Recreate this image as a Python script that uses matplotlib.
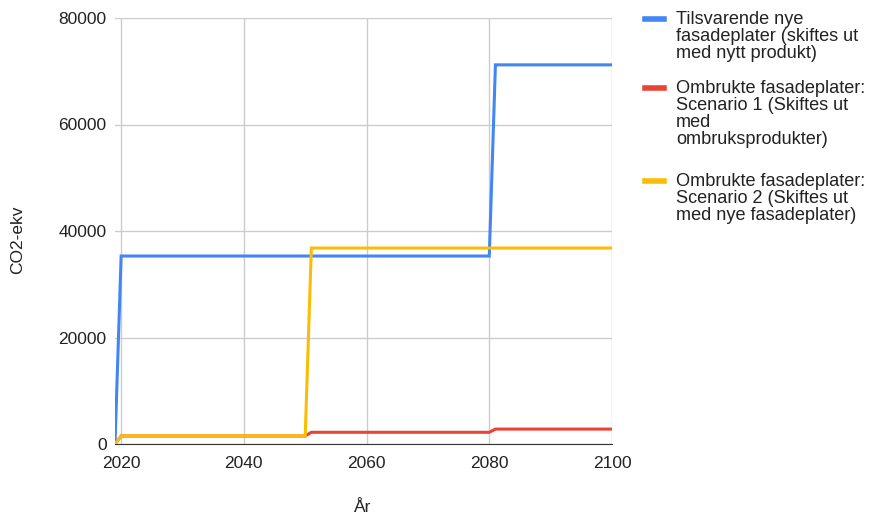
"""CO2-ekv over time for three facade panel scenarios."""

import matplotlib

matplotlib.use("Agg")

import matplotlib.pyplot as plt
from matplotlib.lines import Line2D

years = [2019, 2020, 2050, 2051, 2080, 2081, 2100]
new_panels = [0, 35300, 35300, 35300, 35300, 71200, 71200]
reuse_s1 = [0, 1500, 1500, 2200, 2200, 2800, 2800]
reuse_s2 = [0, 1500, 1500, 36800, 36800, 36800, 36800]

labels = [
    "Tilsvarende nye\nfasadeplater (skiftes ut\nmed nytt produkt)",
    "Ombrukte fasadeplater:\nScenario 1 (Skiftes ut\nmed\nombruksprodukter)",
    "Ombrukte fasadeplater:\nScenario 2 (Skiftes ut\nmed nye fasadeplater)",
]
colors = ["#4285F4", "#EA4335", "#FBBC04"]
x_ticks = [2020, 2040, 2060, 2080, 2100]
y_ticks = [0, 20000, 40000, 60000, 80000]

plt.rcParams["font.family"] = ["Liberation Sans", "DejaVu Sans"]
text_color = "#222222"

W, H = 869, 517
fig = plt.figure(figsize=(W / 100, H / 100), dpi=100)
ax = fig.add_axes([115 / W, 1 - 444 / H, (612 - 115) / W, (444 - 18) / H])

for series, color in zip([new_panels, reuse_s1, reuse_s2], colors):
    ax.plot(years, series, color=color, lw=2.2, solid_joinstyle="miter", zorder=3)

ax.set_xlim(2019, 2100)
ax.set_ylim(0, 80000)
ax.set_xticks(x_ticks)
ax.set_yticks(y_ticks)
ax.grid(True, color="#cccccc", lw=1)
ax.set_axisbelow(True)
for side in ["top", "right", "left"]:
    ax.spines[side].set_visible(False)
ax.spines["bottom"].set_color("#333333")
ax.tick_params(length=0, labelsize=12.5, labelcolor=text_color)
ax.tick_params(axis="x", pad=9)
ax.tick_params(axis="y", pad=6)

fig.text(18 / W, 1 - 240 / H, "CO2-ekv", rotation=90, ha="center", va="center",
         fontsize=12.5, color=text_color)
fig.text(363 / W, 1 - 508 / H, "År", ha="center", va="center",
         fontsize=12.5, color=text_color)

# manual legend: handle aligned with the first text line
for label, color, y in zip(labels, colors, [19, 88, 181]):
    fig.add_artist(Line2D([645 / W, 664 / W], [1 - y / H, 1 - y / H],
                          color=color, lw=4, transform=fig.transFigure))
    fig.text(676 / W, 1 - (y - 8) / H, label, ha="left", va="top",
             fontsize=13.1, color=text_color, linespacing=1.01)

fig.savefig("out.png", dpi=100)
plt.close(fig)
